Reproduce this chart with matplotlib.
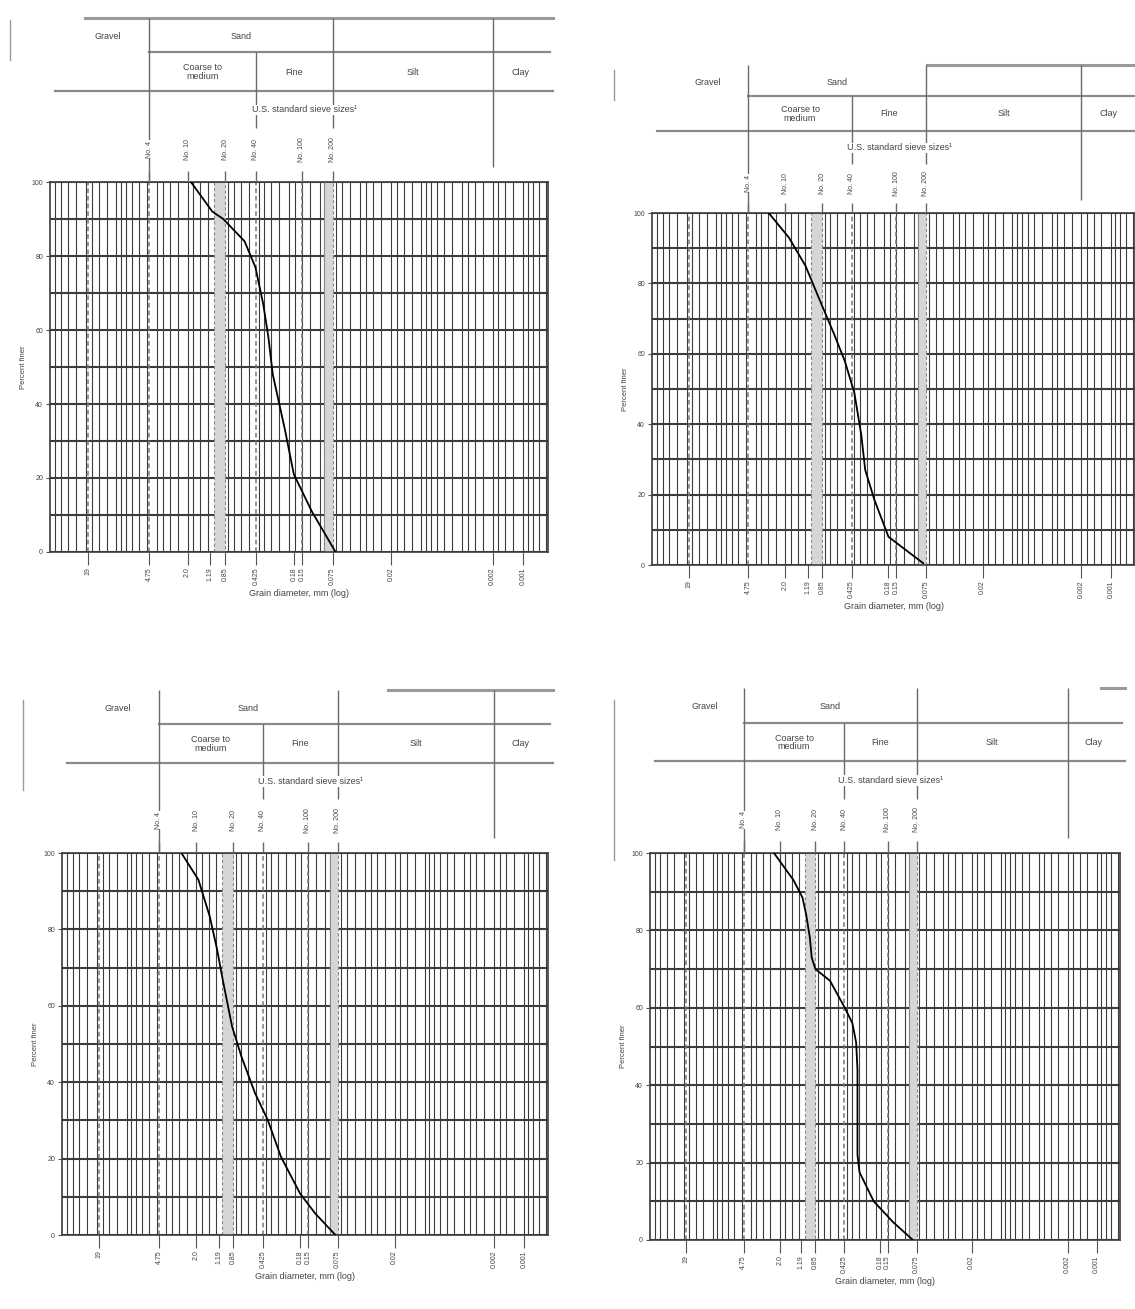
import numpy as np
import matplotlib.pyplot as plt
from matplotlib.lines import Line2D

plt.rcParams['font.family'] = ['Liberation Sans', 'DejaVu Sans']

# percent finer vs grain diameter (mm)
diam_1 = [1.85, 1.14, 0.89, 0.55, 0.43, 0.36, 0.32, 0.29, 0.22, 0.18, 0.12, 0.07]
finer_1 = [100, 92, 90, 84, 77, 67, 58, 48, 33, 21, 11, 0]

diam_2 = [2.95, 1.84, 1.25, 0.92, 0.65, 0.50, 0.40, 0.34, 0.31, 0.25, 0.18, 0.08]
finer_2 = [100, 93, 85, 76, 66, 58, 49, 37, 27, 18.5, 8, 0.5]

diam_3 = [2.82, 1.90, 1.46, 1.23, 1.08, 0.87, 0.70, 0.51, 0.38, 0.28, 0.18, 0.127, 0.079]
finer_3 = [100, 93, 83.4, 74.7, 66.8, 54.6, 46.7, 37.1, 30.1, 20.5, 10.9, 5.7, 0]

diam_4 = [2.30, 1.44, 1.16, 1.06, 0.97, 0.93, 0.85, 0.60, 0.42, 0.35, 0.32, 0.31, 0.31,
          0.31, 0.295, 0.21, 0.133, 0.082]
finer_4 = [100, 93, 88.5, 84, 78, 73, 70, 67, 60, 56, 51, 44, 35, 22, 17.5, 10, 4.7, 0]

# soil classes (boundaries in mm)
bound_mm = [4.75, 0.425, 0.075, 0.002]
sieve_lbl = ['No. 4', 'No. 10', 'No. 20', 'No. 40', 'No. 100', 'No. 200']
sieve_mm = [4.75, 2.0, 0.85, 0.425, 0.15, 0.075]
bottom_mm = [19, 4.75, 2.0, 1.19, 0.85, 0.425, 0.18, 0.15, 0.075, 0.02, 0.002, 0.001]
bottom_lbl = ['19', '4.75', '2.0', '1.19', '0.85', '0.425', '0.18', '0.15', '0.075',
              '0.02', '0.002', '0.001']
dashed_mm = [19, 4.75, 0.425, 0.15]
bands_mm = [(1.1, 0.85), (0.09, 0.075)]
y_ticks = [0, 20, 40, 60, 80, 100]

# rulings of the printed log paper, per decade
paper_mult = [1, 1.25, 1.5, 1.75, 2, 2.5, 3, 3.5, 4, 5, 6, 7, 8, 9]

XLIM = (45, 0.00057)
W, H = 1135, 1309
GRID = '#3c3c3c'
TXT = '#444444'


def box(x0, y0, x1, y1):
    return [x0 / W, 1 - y1 / H, (x1 - x0) / W, (y1 - y0) / H]


fig = plt.figure(figsize=(W / 100, H / 100), dpi=100)

# plot box (px), header top (px), start of the top rule (axes fraction)
panels = [
    ((50, 182, 548, 552), 18, 0.07, diam_1, finer_1),
    ((652, 213, 1135, 565), 65, 0.57, diam_2, finer_2),
    ((62, 853, 548, 1235), 690, 0.67, diam_3, finer_3),
    ((650, 853, 1120, 1240), 688, 0.96, diam_4, finer_4),
]

for (x0, y0, x1, y1), htop, rule_start, d, p in panels:
    ax = fig.add_axes(box(x0, y0, x1, y1))
    ax.set_xscale('log')
    ax.set_xlim(*XLIM)
    ax.set_ylim(0, 100)

    # log paper grid
    for e in range(-4, 2):
        for m in paper_mult:
            v = m * 10.0 ** e
            if XLIM[1] < v < XLIM[0]:
                ax.axvline(v, color=GRID, lw=0.8, zorder=1)
    for yy in range(0, 101, 10):
        ax.axhline(yy, color=GRID, lw=1.5, zorder=1)
    for v in dashed_mm:
        ax.axvline(v, color='#777777', lw=1.1, ls=(0, (3, 2)), zorder=2)
    for a, b in bands_mm:
        ax.axvspan(b, a, facecolor='#d6d6d6', edgecolor='#888888', lw=0.8,
                   ls=(0, (3, 2)), zorder=1.5)

    ax.plot(d, p, color='black', lw=1.3, zorder=5)

    for s in ax.spines.values():
        s.set_color(GRID)
        s.set_linewidth(1.2)
    ax.minorticks_off()
    ax.set_xticks(bottom_mm)
    ax.set_xticklabels(bottom_lbl, rotation=90, fontsize=5, color=TXT)
    ax.tick_params(axis='x', length=9, width=0.8, color='#555555', pad=2)
    ax.set_yticks(y_ticks)
    ax.set_yticklabels([str(t) for t in y_ticks], fontsize=5, color=TXT)
    ax.tick_params(axis='y', length=3, width=0.8, color='#555555', pad=2)
    ax.set_xlabel('Grain diameter, mm (log)', fontsize=6.5, color=TXT, labelpad=3)
    ax.set_ylabel('Percent finer', fontsize=5.5, color=TXT, labelpad=3)

    # header table
    hx = fig.add_axes(box(x0, htop, x1, y0))
    hx.set_xscale('log')
    hx.set_xlim(*XLIM)
    hx.set_ylim(0, 1)
    hx.axis('off')
    lc = '#6a6a6a'
    row1, row2 = 0.79, 0.555
    hx.axhline(1.0, xmin=rule_start, xmax=1.01, color='#9a9a9a', lw=2.2, clip_on=False)
    hx.plot([bound_mm[0], XLIM[1] * 0.95], [row1, row1], color='#8a8a8a', lw=1.6,
            clip_on=False)
    hx.axhline(row2, xmin=0.01, xmax=1.01, color='#8a8a8a', lw=1.6, clip_on=False)
    hx.vlines(bound_mm[0], 0.0, 1.0, color=lc, lw=1)
    hx.vlines(bound_mm[1], 0.33, row1, color=lc, lw=1)
    hx.vlines(bound_mm[2], 0.33, 1.0, color=lc, lw=1)
    hx.vlines(bound_mm[3], 0.09, 1.0, color=lc, lw=1)
    for v, lbl in zip(sieve_mm, sieve_lbl):
        hx.text(v, 0.2, lbl, rotation=90, ha='center', va='center', fontsize=5,
                color=TXT, bbox=dict(facecolor='white', edgecolor='none', pad=0.3))
        hx.vlines(v, 0.0, 0.07, color=lc, lw=1)

    fs = 6.5
    gm = lambda a, b: np.sqrt(a * b)
    hx.text(gm(XLIM[0] * 0.7, bound_mm[0]), 0.885, 'Gravel', ha='center', va='center',
            fontsize=fs, color=TXT)
    hx.text(gm(bound_mm[0], bound_mm[2]), 0.885, 'Sand', ha='center', va='center',
            fontsize=fs, color=TXT)
    hx.text(gm(bound_mm[0], bound_mm[1]), 0.67, 'Coarse to\nmedium', ha='center',
            va='center', fontsize=fs, color=TXT, linespacing=0.95)
    hx.text(gm(bound_mm[1], bound_mm[2]), 0.67, 'Fine', ha='center', va='center',
            fontsize=fs, color=TXT)
    hx.text(gm(bound_mm[2], bound_mm[3]), 0.67, 'Silt', ha='center', va='center',
            fontsize=fs, color=TXT)
    hx.text(gm(bound_mm[3], XLIM[1]), 0.67, 'Clay', ha='center', va='center',
            fontsize=fs, color=TXT)
    hx.text(0.14, 0.44, 'U.S. standard sieve sizes\u00b9', ha='center', va='center',
            fontsize=fs, color=TXT, zorder=5,
            bbox=dict(facecolor='white', edgecolor='none', pad=0.5))

# faint left border marks of the scanned forms
for xa, ya, yb in [(10, 20, 60), (614, 70, 100), (23, 700, 790), (614, 700, 860)]:
    fig.add_artist(Line2D([xa / W, xa / W], [1 - ya / H, 1 - yb / H], color='#999999',
                          lw=1))

fig.savefig('out.png', dpi=100, facecolor='white')
